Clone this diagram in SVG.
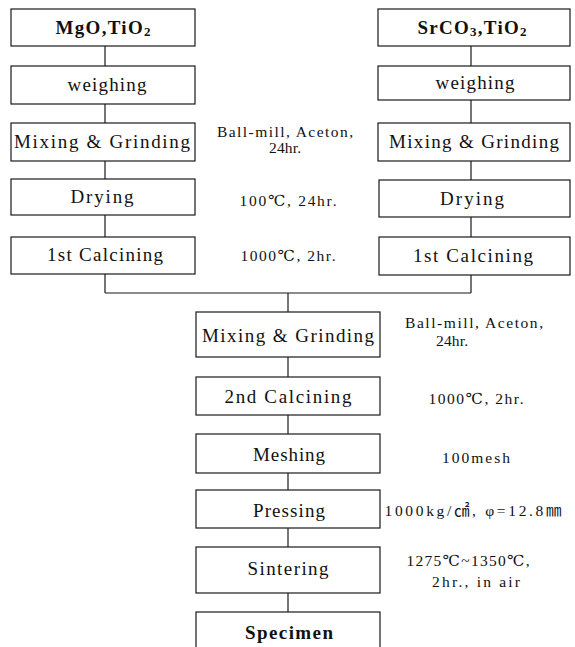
<svg xmlns="http://www.w3.org/2000/svg" width="575" height="647" viewBox="0 0 575 647">
<style>
rect{fill:#fff;stroke:#1a1a1a;stroke-width:1.2}
.c line{stroke:#1a1a1a;stroke-width:1.2}
text{font-family:"Liberation Serif","DejaVu Serif","Noto Sans CJK KR",serif;fill:#111;text-anchor:middle}
.b{font-size:19px}
.bb{font-size:19px;font-weight:bold}
.a{font-size:15.5px}
</style>
<rect x="0" y="0" width="575" height="647" style="stroke:none"/>
<g class="c">
<line x1="105" y1="46" x2="105" y2="293"/>
<line x1="471" y1="46" x2="471" y2="293"/>
<line x1="105" y1="293" x2="471" y2="293"/>
<line x1="288" y1="293" x2="288" y2="612"/>
</g>
<g id="n1"><rect x="11" y="9" width="184" height="37"/><text class="bb" x="103" y="34" textLength="95" lengthAdjust="spacing">MgO,TiO<tspan font-size="13" dy="2">2</tspan></text></g>
<g id="n2"><rect x="11" y="66" width="184" height="38"/><text class="b" x="107" y="91" textLength="79" lengthAdjust="spacing">weighing</text></g>
<g id="n3"><rect x="11" y="123" width="184" height="38"/><text class="b" x="102" y="148" textLength="176" lengthAdjust="spacing">Mixing &amp; Grinding</text></g>
<g id="n4"><rect x="11" y="179" width="184" height="36"/><text class="b" x="102" y="203" textLength="63" lengthAdjust="spacing">Drying</text></g>
<g id="n5"><rect x="11" y="237" width="184" height="37"/><text class="b" x="105" y="261" textLength="116" lengthAdjust="spacing">1st Calcining</text></g>
<g id="n6"><rect x="378" y="9" width="192" height="37"/><text class="bb" x="472" y="34" textLength="109" lengthAdjust="spacing">SrCO<tspan font-size="13" dy="2">3</tspan><tspan dy="-2">,TiO</tspan><tspan font-size="13" dy="2">2</tspan></text></g>
<g id="n7"><rect x="378" y="66" width="192" height="34"/><text class="b" x="475" y="89" textLength="79" lengthAdjust="spacing">weighing</text></g>
<g id="n8"><rect x="378" y="123" width="192" height="38"/><text class="b" x="474" y="148" textLength="170" lengthAdjust="spacing">Mixing &amp; Grinding</text></g>
<g id="n9"><rect x="379" y="180" width="191" height="37"/><text class="b" x="472" y="205" textLength="64" lengthAdjust="spacing">Drying</text></g>
<g id="n10"><rect x="379" y="237" width="191" height="38"/><text class="b" x="473" y="262" textLength="120" lengthAdjust="spacing">1st Calcining</text></g>
<g id="n11"><rect x="196" y="312" width="184" height="45"/><text class="b" x="288" y="342" textLength="172" lengthAdjust="spacing">Mixing &amp; Grinding</text></g>
<g id="n12"><rect x="196" y="377" width="184" height="38"/><text class="b" x="288" y="403" textLength="127" lengthAdjust="spacing">2nd Calcining</text></g>
<g id="n13"><rect x="196" y="434" width="184" height="39"/><text class="b" x="289" y="461" textLength="72" lengthAdjust="spacing">Meshing</text></g>
<g id="n14"><rect x="196" y="490" width="184" height="38"/><text class="b" x="289" y="517" textLength="72" lengthAdjust="spacing">Pressing</text></g>
<g id="n15"><rect x="196" y="547" width="184" height="46"/><text class="b" x="288" y="575" textLength="81" lengthAdjust="spacing">Sintering</text></g>
<g id="n16"><rect x="196" y="612" width="184" height="50"/><text class="bb" x="289" y="639" textLength="88" lengthAdjust="spacing">Specimen</text></g>
<g id="labels">
<text class="a" x="285" y="137" textLength="136" lengthAdjust="spacing">Ball-mill, Aceton,</text>
<text class="a" x="285" y="153" textLength="32" lengthAdjust="spacing">24hr.</text>
<text class="a" x="288" y="206" textLength="97" lengthAdjust="spacing">100℃, 24hr.</text>
<text class="a" x="288" y="261" textLength="95" lengthAdjust="spacing">1000℃, 2hr.</text>
<text class="a" x="474" y="328" textLength="138" lengthAdjust="spacing">Ball-mill, Aceton,</text>
<text class="a" x="452" y="346" textLength="32" lengthAdjust="spacing">24hr.</text>
<text class="a" x="476" y="404" textLength="95" lengthAdjust="spacing">1000℃, 2hr.</text>
<text class="a" x="476" y="463" textLength="68" lengthAdjust="spacing">100mesh</text>
<text class="a" x="473" y="516" textLength="177" lengthAdjust="spacing">1000kg/㎠, φ=12.8㎜</text>
<text class="a" x="468" y="566" textLength="123" lengthAdjust="spacing">1275℃~1350℃,</text>
<text class="a" x="476" y="587" textLength="88" lengthAdjust="spacing">2hr., in air</text>
</g>
</svg>
